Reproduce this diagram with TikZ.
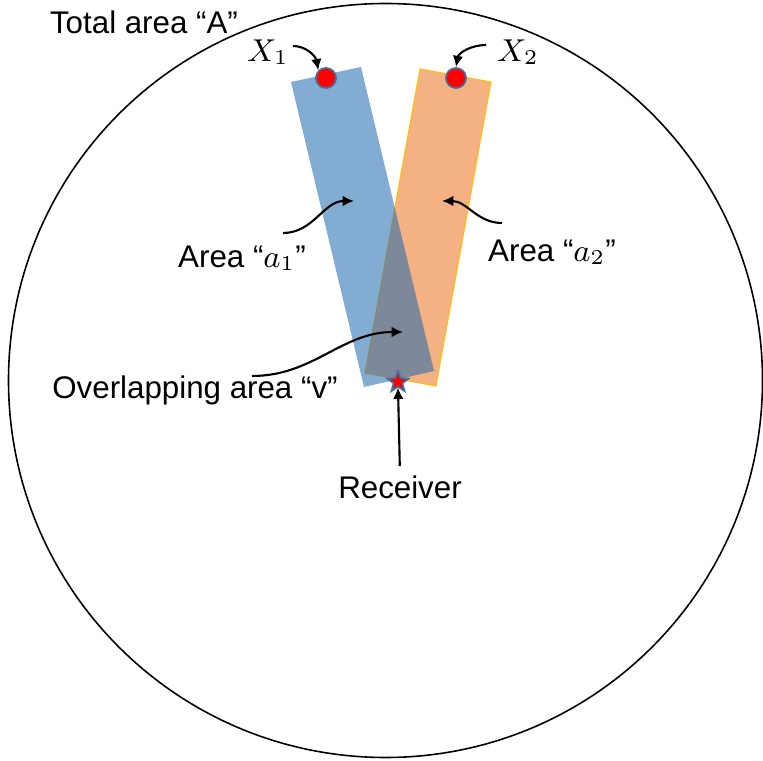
\documentclass[tikz,border=0pt]{standalone}
\usepackage{fontspec}
\setmainfont{Liberation Sans}
\usepackage{tikz}
\usetikzlibrary{arrows.meta,shapes.geometric}
\definecolor{BeamBlue}{RGB}{32,107,175}
\definecolor{BeamOrange}{RGB}{244,177,131}
\definecolor{EdgeGold}{RGB}{255,192,0}
\definecolor{DotRim}{RGB}{65,113,156}

\begin{document}
\begin{tikzpicture}[x=0.01cm,y=-0.01cm,>={Latex[length=3.2pt,width=3pt]},
    lbl/.style={font=\fontsize{8.9}{10.5}\selectfont,inner sep=0pt},
    ptr/.style={->,semithick},
    txdot/.style={circle,fill=red,draw=DotRim,line width=0.5pt,minimum size=5.7pt,inner sep=0pt}]
      \useasboundingbox (0,0) rectangle (763,761);
      % total area
      \draw[line width=0.45pt] (385.5,380.5) circle (377);
      % the two beams
      \draw[fill=BeamOrange,draw=EdgeGold,line width=0.3pt]
        (420,69)--(491,82)--(436,386)--(365,373)--cycle;
      \fill[BeamBlue,opacity=0.56] (291,82)--(361,67)--(434,371)--(364,387)--cycle;
      % transmitters and receiver
      \node[txdot] (x1dot) at (326,78) {};
      \node[txdot] (x2dot) at (456,78) {};
      \node[star,star points=5,star point ratio=2.4,fill=red,draw=DotRim,
        line width=0.5pt,minimum size=6.3pt,inner sep=0pt] (rx) at (398,382) {};
      % labels
      \node[lbl] (total) at (144,22) {Total area “A”};
      \node[lbl] (x1lbl) at (268,52) {$X_1$};
      \node[lbl] (x2lbl) at (518,52) {$X_2$};
      \node[lbl] (a1lbl) at (242,258) {Area “$a_1$”};
      \node[lbl] (a2lbl) at (552,252) {Area “$a_2$”};
      \node[lbl] (vlbl) at (195,390) {Overlapping area “v”};
      \node[lbl] (rxlbl) at (400,487) {Receiver};
      % arrow ends
      \coordinate (x1tail) at (293,46);
      \coordinate (x2tail) at (486,45);
      \coordinate (a1tail) at (283,233);
      \coordinate (a1tip) at (354,201);
      \coordinate (a2tail) at (502,223);
      \coordinate (a2tip) at (442,201);
      \coordinate (vtail) at (252,376);
      \coordinate (vtip) at (403,332);
      \draw[ptr] (x1tail) to[out=0,in=100] (x1dot.north west);
      \draw[ptr] (x2tail) to[out=180,in=80] (x2dot.north);
      \draw[ptr] (a1tail) to[out=0,in=180] (a1tip);
      \draw[ptr] (a2tail) to[out=180,in=0] (a2tip);
      \draw[ptr] (vtail) to[out=0,in=180] (vtip);
      \draw[ptr,shorten <=2.5pt] (rxlbl.north) -- (rx.south);
    \end{tikzpicture}
\end{document}
